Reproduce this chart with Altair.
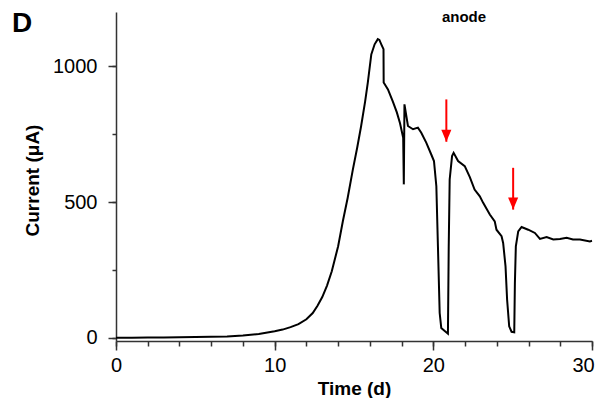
import altair as alt
import pandas as pd

# ---- data ----
time_d = [0, 1, 2, 3, 4, 5, 6, 7, 8, 9, 10, 10.5, 11, 11.5, 12, 12.4, 12.7, 13.0,
          13.3, 13.6, 14.0, 14.3, 14.6, 14.93, 15.2, 15.45, 15.7, 15.87, 16.09, 16.3,
          16.5, 16.6, 16.72, 16.86, 16.87, 17.14, 17.45, 17.7, 17.9, 18.1, 18.14,
          18.18, 18.4, 18.72, 19.03, 19.24, 19.56, 19.87, 20.04, 20.19, 20.29, 20.4,
          20.5, 20.7, 20.92, 20.97, 21.03, 21.18, 21.28, 21.56, 21.98, 22.3, 22.6,
          22.93, 23.14, 23.56, 23.87, 23.98, 24.3, 24.4, 24.55, 24.65, 24.78, 24.93,
          25.1, 25.14, 25.2, 25.35, 25.56, 25.98, 26.4, 26.72, 27.14, 27.56, 27.98,
          28.4, 28.8, 29.24, 29.87, 30.0]
current_uA = [0, 0, 1, 1, 2, 3, 4, 5, 8, 14, 24, 30, 39, 50, 68, 91, 118, 150,
              192, 245, 337, 430, 515, 620, 700, 780, 870, 940, 1044, 1081,
              1100, 1097, 1081, 1063, 940, 915, 870, 830, 790, 737, 565,
              860, 780, 768, 774, 755, 718, 675, 651, 558, 337, 91,
              36, 26, 15, 337, 583, 669, 681, 651, 632, 592, 546,
              521, 497, 454, 429, 398, 374, 349, 263, 140, 42, 22,
              20, 202, 337, 392, 408, 398, 386, 364, 371, 362, 364,
              368, 362, 362, 355, 357]

arrow_day = [20.82, 25.03]
arrow_top = [878, 626]
arrow_tip = [722, 472]

x_major = [0, 10, 20, 30]
x_minor = list(range(0, 31, 2))
y_major = [0, 500, 1000]
y_minor = [0, 250, 500, 750, 1000]
panel_label = ["D"]
top_note = ["anode"]

FONT = "Liberation Sans"
AX = "#333"

df = pd.DataFrame({"t": time_d, "c": current_uA, "i": list(range(len(time_d)))})
arr = pd.DataFrame({"t": arrow_day, "top": arrow_top, "tip": arrow_tip})

xscale = alt.Scale(domain=[0, 30], nice=False, zero=False)
yscale = alt.Scale(domain=[-12, 1200], nice=False, zero=False)

xaxis = alt.Axis(
    orient="bottom", values=x_major, format="d", tickSize=9,
    labelOverlap=False, labelFlush=False, labelBound=False, grid=False,
    labelOffset={"condition": {"test": "datum.value === 30", "value": -9}, "value": 0},
    title="Time (d)", titleFontSize=19, titleFontWeight="bold", titleFont=FONT,
    titleY=38, titleColor="black",
    labelFontSize=20, labelFont=FONT, labelColor="black", labelPadding=5,
    domainColor=AX, domainWidth=1.5, tickColor=AX, tickWidth=1.5,
)
yaxis = alt.Axis(
    orient="left", values=y_major, format="d", tickSize=8,
    labelOverlap=False, labelFlush=False, grid=False,
    title="Current (μA)", titleFontSize=19, titleFontWeight="bold", titleFont=FONT,
    titleX=-74, titleY=168, titleColor="black",
    labelFontSize=20, labelFont=FONT, labelColor="black", labelPadding=11,
    domainColor=AX, domainWidth=1.5, tickColor=AX, tickWidth=1.5,
)
xaxis_minor = alt.Axis(
    orient="bottom", values=x_minor, tickSize=5, labels=False, domain=False,
    grid=False, title=None, tickColor=AX, tickWidth=1.5,
)
yaxis_minor = alt.Axis(
    orient="left", values=y_minor, tickSize=4, labels=False, domain=False,
    grid=False, title=None, tickColor=AX, tickWidth=1.5,
)

line = alt.Chart(df).mark_line(color="black", strokeWidth=2).encode(
    x=alt.X("t:Q", scale=xscale, axis=xaxis),
    y=alt.Y("c:Q", scale=yscale, axis=yaxis),
    order="i:Q",
)

rules = alt.Chart(arr).mark_rule(color="#ff0000", strokeWidth=2).encode(
    x=alt.X("t:Q", scale=xscale, axis=xaxis_minor),
    y=alt.Y("top:Q", scale=yscale, axis=yaxis_minor),
    y2="tip:Q",
)
heads = alt.Chart(arr).mark_point(
    shape="M-0.42,-1L0.42,-1L0,0Z", filled=True, color="#ff0000",
    size=576, opacity=1, strokeWidth=0,
).encode(
    x=alt.X("t:Q", scale=xscale, axis=None),
    y=alt.Y("tip:Q", scale=yscale, axis=None),
)

dlabel = alt.Chart(pd.DataFrame({"s": panel_label})).mark_text(
    font=FONT, fontSize=28, fontWeight="bold", align="left", baseline="alphabetic",
    color="black",
).encode(text="s:N", x=alt.value(-104), y=alt.value(20))

note = alt.Chart(pd.DataFrame({"s": top_note})).mark_text(
    font=FONT, fontSize=15, fontWeight="bold", align="center", baseline="alphabetic",
    color="black",
).encode(text="s:N", x=alt.value(348), y=alt.value(10))

chart = alt.layer(line, rules, heads, dlabel, note).resolve_axis(
    x="independent", y="independent"
).properties(
    width=476, height=329,
    autosize=alt.AutoSizeParams(type="none"),
    padding={"left": 108, "top": 4, "right": 5, "bottom": 57},
).configure_view(stroke=None)

chart.save("out.html", embed_options={"renderer": "svg", "actions": False})
